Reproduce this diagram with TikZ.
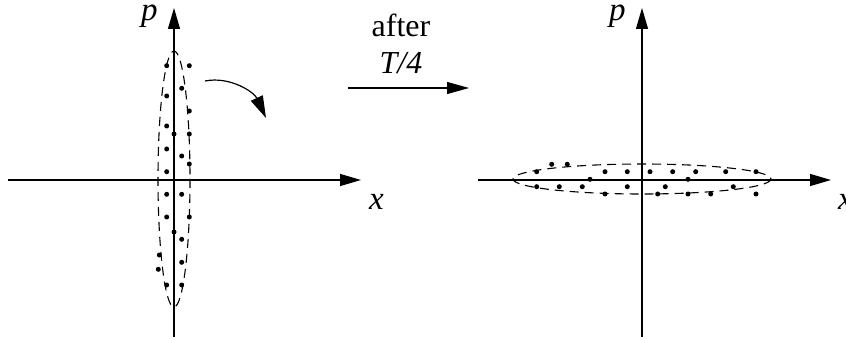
\documentclass[tikz,border=0pt]{standalone}
\usepackage{fontspec}
\setmainfont{Liberation Serif}
\usetikzlibrary{arrows.meta}
\begin{document}
\begin{tikzpicture}[x=1pt,y=-1pt,
  axis/.style={line width=1.2pt,-{Triangle[length=21pt,width=12pt]}},
  dot/.style={circle,fill=black,inner sep=0pt,minimum size=5pt},
  cloud/.style={dash pattern=on 9pt off 6pt,line width=1.1pt},
  lbl/.style={font=\fontsize{33}{34}\selectfont\itshape,inner sep=0pt},
  txt/.style={font=\fontsize{32}{33}\selectfont,inner sep=0pt,anchor=base}]
\useasboundingbox (0,0) rectangle (846,339);
% left panel
\coordinate (lxs) at (8,180);
\coordinate (lxe) at (361,180);
\coordinate (lps) at (174,337);
\coordinate (lpe) at (174,8);
\draw[axis] (lxs) -- (lxe);
\draw[axis] (lps) -- (lpe);
\node[lbl,anchor=base west] (lx) at (369,210) {x};
\node[lbl,anchor=base west] (lp) at (141,21) {p};
\draw[cloud] (174,179) ellipse [x radius=16, y radius=128];
\foreach \i/\a/\b in {1/166.7/65.7,2/189.3/65.7,3/181.7/88.3,4/166.7/96,5/189.3/111,6/166.7/126,7/174/134,8/189.3/134,9/166.7/149,10/181.7/156,11/189.3/164,12/166.7/171.7,13/166.7/194.3,14/181.7/194.3,15/166.7/217,16/189.3/217,17/174/232,18/181.7/239.3,19/159.3/255,20/181.7/262.3,21/158.3/269.3,22/166.7/285,23/181.7/285}
  \node[dot] (l\i) at (\a,\b) {};
% rotation arrow
\coordinate (rs) at (205,81);
\coordinate (re) at (266,118);
\draw[line width=1.2pt,-{Triangle[length=22pt,width=13pt]}] (rs) .. controls (230,76) and (254,92) .. (re);
% middle arrow
\coordinate (ms) at (348,88);
\coordinate (me) at (469,88);
\draw[line width=1.2pt,-{Triangle[length=22pt,width=12pt]}] (ms) -- (me);
\node[txt] (after) at (401,37) {after};
\node[txt,font=\fontsize{32}{33}\selectfont\itshape] (T4) at (401,74) {T/4};
% right panel
\coordinate (rxs) at (478,180);
\coordinate (rxe) at (831,180);
\coordinate (rps) at (642,337);
\coordinate (rpe) at (642,8);
\draw[axis] (rxs) -- (rxe);
\draw[axis] (rps) -- (rpe);
\node[lbl,anchor=base west] (rx) at (838,210) {x};
\node[lbl,anchor=base west] (rp) at (609,21) {p};
\draw[cloud] (642,179) ellipse [x radius=129, y radius=15];
\foreach \i/\a/\b in {1/536.7/171.7,2/551.7/164.3,3/567.3/164.3,4/605/171.7,5/627.3/171.7,6/650/171.7,7/672.7/171.7,8/695.7/171.7,9/725.7/171.7,10/756/171.7,11/590/179.3,12/688/179.3,13/536.7/186.7,14/559.3/186.7,15/582.3/186.7,16/627.3/186.7,17/665.3/186.7,18/733.3/186.7,19/605/194,20/657.7/194,21/688/194,22/710.7/194,23/756/194}
  \node[dot] (r\i) at (\a,\b) {};
\end{tikzpicture}
\end{document}
